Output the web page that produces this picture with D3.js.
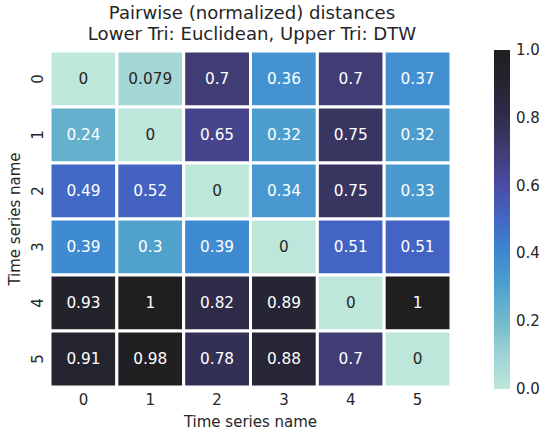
<!DOCTYPE html>
<html><head><meta charset="utf-8">
<script src="https://cdn.jsdelivr.net/npm/d3@7"></script>
<style>body{margin:0;background:#fff}text{font-family:"DejaVu Sans",sans-serif;fill:#262626}</style>
</head><body>
<svg id="c" width="541" height="434"></svg>
<script>
const names = ["0","1","2","3","4","5"];
const values = [
  [0, 0.079, 0.7, 0.36, 0.7, 0.37],
  [0.24, 0, 0.65, 0.32, 0.75, 0.32],
  [0.49, 0.52, 0, 0.34, 0.75, 0.33],
  [0.39, 0.3, 0.39, 0, 0.51, 0.51],
  [0.93, 1, 0.82, 0.89, 0, 1],
  [0.91, 0.98, 0.78, 0.88, 0.7, 0]
];
const cbarTicks = [0, 0.2, 0.4, 0.6, 0.8, 1.0];
const colorStops = ["#bde7db","#9ed3d6","#72b9cd","#50a2cd","#3c88d2","#4267c6","#4a4ca6","#403c74","#302d4e","#252430","#1f1f20"];

const svg = d3.select("#c");
const L = 50, R = 451, T = 51, B = 387;
const x = d3.scaleBand().domain(names).range([L, R]);
const y = d3.scaleBand().domain(names).range([T, B]);
const color = d3.scaleLinear().domain(colorStops.map((_, i) => i / (colorStops.length - 1))).range(colorStops).clamp(true);

const cells = [];
values.forEach((row, i) => row.forEach((v, j) => cells.push({r: names[i], c: names[j], v})));

const FS = 15;
const g = svg.append("g");
g.selectAll("rect").data(cells).join("rect")
  .attr("x", d => x(d.c)).attr("y", d => y(d.r))
  .attr("width", x.bandwidth()).attr("height", y.bandwidth())
  .attr("fill", d => color(d.v)).attr("stroke", "#fff").attr("stroke-width", 3);
g.selectAll("text.ann").data(cells).join("text").attr("class", "ann")
  .attr("x", d => x(d.c) + x.bandwidth() / 2).attr("y", d => y(d.r) + y.bandwidth() / 2)
  .attr("text-anchor", "middle").attr("dominant-baseline", "central")
  .attr("font-size", 15.3)
  .style("fill", d => d.v < 0.15 ? "#262626" : "#ffffff")
  .text(d => String(d.v));

// x ticks
svg.selectAll("text.xt").data(names).join("text").attr("class", "xt")
  .attr("x", d => x(d) + x.bandwidth() / 2).attr("y", 405)
  .attr("text-anchor", "middle").attr("font-size", FS).text(d => d);
svg.append("text").attr("x", (L + R) / 2).attr("y", 427).attr("text-anchor", "middle")
  .attr("font-size", FS).text("Time series name");
// y ticks
svg.selectAll("text.yt").data(names).join("text").attr("class", "yt")
  .attr("transform", d => `translate(43,${y(d) + y.bandwidth() / 2}) rotate(-90)`)
  .attr("text-anchor", "middle").attr("font-size", FS).text(d => d);
svg.append("text").attr("transform", `translate(20,${(T + B) / 2}) rotate(-90)`)
  .attr("text-anchor", "middle").attr("font-size", FS).text("Time series name");

// title
svg.append("text").attr("x", 252).attr("y", 19).attr("text-anchor", "middle").attr("font-size", 18.1)
  .text("Pairwise (normalized) distances");
svg.append("text").attr("x", 252).attr("y", 40).attr("text-anchor", "middle").attr("font-size", 18.1)
  .text("Lower Tri: Euclidean, Upper Tri: DTW");

// colorbar
const cbT = 50, cbB = 389, cbL = 494, cbW = 16;
const cy = d3.scaleLinear().domain([0, 1]).range([cbB, cbT]);
const defs = svg.append("defs");
const grad = defs.append("linearGradient").attr("id", "cg").attr("x1", 0).attr("y1", 1).attr("x2", 0).attr("y2", 0);
d3.range(0, 1.0001, 0.02).forEach(t => grad.append("stop").attr("offset", t).attr("stop-color", color(t)));
svg.append("rect").attr("x", cbL).attr("y", cbT).attr("width", cbW).attr("height", cbB - cbT).attr("fill", "url(#cg)");
svg.selectAll("text.ct").data(cbarTicks).join("text").attr("class", "ct")
  .attr("x", 516).attr("y", d => cy(d)).attr("dominant-baseline", "central")
  .attr("font-size", FS).text(d => d.toFixed(1));
</script>
</body></html>
